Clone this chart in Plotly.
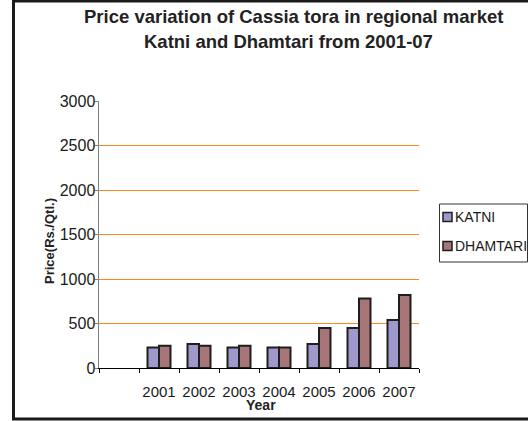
import plotly.graph_objects as go

years = [2001, 2002, 2003, 2004, 2005, 2006, 2007]
year_labels = ["2001", "2002", "2003", "2004", "2005", "2006", "2007"]
katni = [230, 270, 230, 230, 270, 450, 540]
dhamtari = [250, 250, 250, 230, 450, 780, 820]
y_ticks = [0, 500, 1000, 1500, 2000, 2500, 3000]
series_names = ["KATNI", "DHAMTARI"]
series_colors = ["#9E98CC", "#A67577"]

W, H = 528, 421
L, R, T, B = 99, 419, 101, 368  # plot area pixel box


def px(x):
    return (x - L) / (R - L)


def py(y):
    return (B - y) / (B - T)


fig = go.Figure()
for name, vals, col in zip(series_names, [katni, dhamtari], series_colors):
    fig.add_trace(go.Bar(
        x=years, y=vals, name=name, showlegend=False,
        marker=dict(color=col, line=dict(color="#1e1e1e", width=2)),
    ))

font_main = "Liberation Sans, Arial, sans-serif"

annotations = [
    dict(text="<b>Price variation of Cassia tora in regional market</b>",
         xref="paper", yref="paper", x=px(293), y=py(17),
         xanchor="center", yanchor="middle", showarrow=False,
         font=dict(size=18.5, color="#222222")),
    dict(text="<b>Katni and Dhamtari from 2001-07</b>",
         xref="paper", yref="paper", x=px(288), y=py(42),
         xanchor="center", yanchor="middle", showarrow=False,
         font=dict(size=18.5, color="#222222")),
    dict(text="<b>Year</b>",
         xref="paper", yref="paper", x=px(261), y=py(405),
         xanchor="center", yanchor="middle", showarrow=False,
         font=dict(size=14, color="#222222")),
    dict(text="<b>Price(Rs./Qtl.)</b>",
         xref="paper", yref="paper", x=px(49), y=py(241),
         xanchor="center", yanchor="middle", showarrow=False,
         textangle=-90,
         font=dict(size=13, color="#222222")),
]

shapes = [
    dict(type="rect", xref="paper", yref="paper",
         x0=px(13.5), x1=px(545), y0=py(419), y1=py(1),
         line=dict(color="#1a1a1a", width=3), layer="above"),
    # legend box
    dict(type="rect", xref="paper", yref="paper",
         x0=px(439.5), x1=px(527.5), y0=py(262), y1=py(204),
         line=dict(color="#333333", width=1), fillcolor="white", layer="above"),
]
legend_rows = [217, 246]
for name, col, ry in zip(series_names, series_colors, legend_rows):
    shapes.append(dict(type="rect", xref="paper", yref="paper",
                       x0=px(443), x1=px(452), y0=py(ry + 4.5), y1=py(ry - 4.5),
                       line=dict(color="#1e1e1e", width=1.5), fillcolor=col,
                       layer="above"))
    annotations.append(dict(text=name, xref="paper", yref="paper",
                            x=px(453), y=py(ry), xanchor="left", yanchor="middle",
                            showarrow=False,
                            font=dict(size=14, color="#1a1a1a")))

fig.update_layout(
    template="none",
    width=W, height=H,
    margin=dict(l=L, r=W - R, t=T, b=H - B, pad=0, autoexpand=False),
    paper_bgcolor="white", plot_bgcolor="white",
    barmode="group", bargap=0.425, bargroupgap=0,
    font=dict(family=font_main, size=15, color="#1a1a1a"),
    showlegend=False,
    xaxis=dict(
        range=[1999.5, 2007.5],
        tickvals=years, ticktext=year_labels, tickangle=0,
        ticks="", ticklen=0,
        showline=True, linecolor="#000000", linewidth=1,
        showgrid=False, zeroline=False,
        ticklabelstandoff=10,
        minor=dict(
            tickvals=[1999.5 + i for i in range(9)],
            ticks="outside", ticklen=4, tickcolor="#000000", tickwidth=1,
            showgrid=False,
        ),
        fixedrange=True,
    ),
    yaxis=dict(
        range=[0, 3000], tickvals=y_ticks,
        ticks="outside", ticklen=3, tickcolor="#808080", tickwidth=1,
        showline=True, linecolor="#808080", linewidth=1.5,
        showgrid=True, gridcolor="#FF8A1C", gridwidth=1,
        zeroline=False,
        tickfont=dict(size=16),
        ticklabelstandoff=-4,
        minor=dict(showgrid=False, ticks=""),
        fixedrange=True,
    ),
    annotations=annotations,
    shapes=shapes,
)

fig.write_html("out.html",
               config={"displayModeBar": False, "staticPlot": True},
               post_script="document.body.style.margin='0';document.body.style.overflow='hidden';")
